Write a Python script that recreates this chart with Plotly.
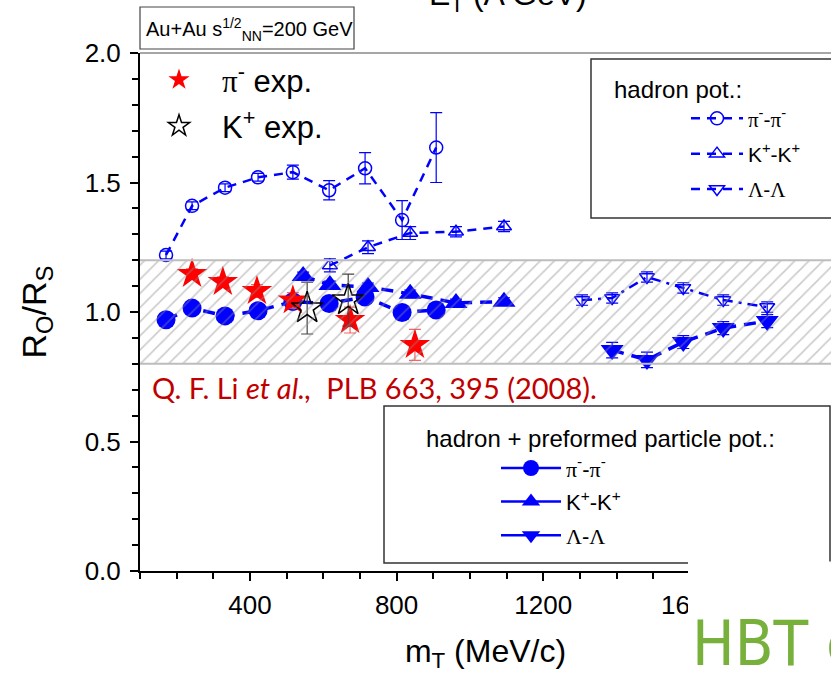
import plotly.graph_objects as go

# ---- R_O/R_S versus m_T (MeV/c), Au+Au at sqrt(s_NN)=200 GeV ----
# hadron potential only (open symbols)
pi_had_x = [171, 242, 332, 422, 517, 616, 714, 815, 908]
pi_had_y = [1.22, 1.41, 1.48, 1.52, 1.54, 1.47, 1.555, 1.355, 1.635]
pi_had_err = [0.015, 0.015, 0.015, 0.015, 0.027, 0.037, 0.06, 0.075, 0.135]

k_had_x = [618, 722, 837, 962, 1093]
k_had_y = [1.18, 1.25, 1.305, 1.31, 1.33]
k_had_err = [0.025, 0.025, 0.025, 0.02, 0.02]

lam_had_x = [1306, 1388, 1483, 1582, 1691, 1811]
lam_had_y = [1.046, 1.054, 1.135, 1.093, 1.046, 1.019]
lam_had_err = [0.02, 0.02, 0.02, 0.02, 0.02, 0.02]

# hadron + preformed particle potential (filled symbols)
pi_pre_x = [171, 242, 332, 422, 517, 616, 714, 815, 908]
pi_pre_y = [0.97, 1.015, 0.985, 1.005, 1.04, 1.033, 1.058, 0.998, 1.008]
pi_pre_err = [0.01, 0.01, 0.01, 0.01, 0.01, 0.01, 0.01, 0.015, 0.015]

k_pre_x = [545, 618, 722, 837, 962, 1093]
k_pre_y = [1.139, 1.104, 1.097, 1.07, 1.035, 1.04]
k_pre_err = [0.015, 0.015, 0.015, 0.015, 0.015, 0.015]

lam_pre_x = [1388, 1483, 1582, 1691, 1811]
lam_pre_y = [0.853, 0.815, 0.884, 0.938, 0.965]
lam_pre_err = [0.03, 0.03, 0.025, 0.025, 0.025]

# experimental points
pim_exp_x = [242, 326, 419, 517, 673, 850]
pim_exp_y = [1.147, 1.116, 1.081, 1.045, 0.969, 0.873]
pim_exp_err = [0.02, 0.02, 0.025, 0.03, 0.05, 0.06]

kp_exp_x = [556, 668]
kp_exp_y = [1.015, 1.046]
kp_exp_err = [0.10, 0.10]

# shaded band of the expected region
band_lo, band_hi = 0.8, 1.2

x_range = [100, 1985]
y_range = [0.0, 2.0]
x_ticks = [400, 800, 1200, 1600]
y_ticks = [0.0, 0.5, 1.0, 1.5, 2.0]

W, H = 831, 677
ML, MR, MT, MB = 140, 0, 53, 106
PW, PH = W - ML - MR, H - MT - MB


def px(x):
    return (x - ML) / PW


def py(y):
    return (H - MB - y) / PH


BLUE = "#0000ff"
RED = "#ff0000"
SERIF = "Liberation Serif, Times New Roman, serif"
SANS = "Liberation Sans, Arial, sans-serif"


def serif(s):
    return f'<span style="font-family:{SERIF}">{s}</span>'


PI = serif("π")
LAM = serif("Λ")

fig = go.Figure()

err_style = dict(type="data", thickness=1.2, width=6, color=BLUE)

# open symbols, dashed
fig.add_trace(go.Scatter(
    x=pi_had_x, y=pi_had_y, mode="lines+markers", showlegend=False,
    line=dict(color=BLUE, width=2.5, dash="9px,7px"),
    marker=dict(symbol="circle-open", size=13, color=BLUE, line=dict(width=1.5)),
    error_y=dict(array=pi_had_err, **err_style)))
fig.add_trace(go.Scatter(
    x=k_had_x, y=k_had_y, mode="lines+markers", showlegend=False,
    line=dict(color=BLUE, width=2.5, dash="9px,7px"),
    marker=dict(symbol="triangle-up-open", size=13, color=BLUE, line=dict(width=1.5)),
    error_y=dict(array=k_had_err, **err_style)))
fig.add_trace(go.Scatter(
    x=lam_had_x, y=lam_had_y, mode="lines+markers", showlegend=False,
    line=dict(color=BLUE, width=2.5, dash="10px,6px,3px,6px"),
    marker=dict(symbol="triangle-down-open", size=13, color=BLUE, line=dict(width=1.5)),
    error_y=dict(array=lam_had_err, **err_style)))

# filled symbols
fig.add_trace(go.Scatter(
    x=pi_pre_x, y=pi_pre_y, mode="lines+markers", showlegend=False,
    line=dict(color=BLUE, width=3.5, dash="12px,8px"),
    marker=dict(symbol="circle", size=19, color=BLUE),
    error_y=dict(array=pi_pre_err, **err_style)))
fig.add_trace(go.Scatter(
    x=k_pre_x, y=k_pre_y, mode="lines+markers", showlegend=False,
    line=dict(color=BLUE, width=3.5, dash="12px,8px"),
    marker=dict(symbol="triangle-up", size=20, color=BLUE),
    error_y=dict(array=k_pre_err, **err_style)))
fig.add_trace(go.Scatter(
    x=lam_pre_x, y=lam_pre_y, mode="lines+markers", showlegend=False,
    line=dict(color=BLUE, width=3.5, dash="12px,8px"),
    marker=dict(symbol="triangle-down", size=20, color=BLUE),
    error_y=dict(array=lam_pre_err, **err_style)))

# experiment
fig.add_trace(go.Scatter(
    x=pim_exp_x, y=pim_exp_y, mode="markers", showlegend=False,
    marker=dict(symbol="star", size=23, color=RED),
    error_y=dict(type="data", array=pim_exp_err, thickness=1.2, width=6, color="#ff6060")))
fig.add_trace(go.Scatter(
    x=kp_exp_x, y=kp_exp_y, mode="markers", showlegend=False,
    marker=dict(symbol="star-open", size=24, color="black", line=dict(width=1.5)),
    error_y=dict(type="data", array=kp_exp_err, thickness=1.2, width=6, color="#444444")))

# hatched band drawn over the points
fig.add_trace(go.Scatter(
    x=[x_range[0], x_range[1], x_range[1], x_range[0], x_range[0]],
    y=[band_lo, band_lo, band_hi, band_hi, band_lo],
    mode="lines", fill="toself", showlegend=False, hoverinfo="skip",
    line=dict(width=0, color="rgba(0,0,0,0)"),
    fillcolor="rgba(0,0,0,0)",
    fillpattern=dict(shape="/", fgcolor="rgba(140,140,140,0.9)", bgcolor="rgba(0,0,0,0)",
                     size=10, solidity=0.16, fillmode="overlay")))

# legend entries
fig.add_trace(go.Scatter(x=[None], y=[None], mode="markers", name=f"{PI}<sup>-</sup> exp.",
                         legend="legend", legendgroup="a",
                         marker=dict(symbol="star", size=24, color=RED)))
fig.add_trace(go.Scatter(x=[None], y=[None], mode="markers", name="K<sup>+</sup> exp.",
                         legend="legend", legendgroup="b",
                         marker=dict(symbol="star-open", size=24, color="black", line=dict(width=1.5))))

for nm, sym, dash, g in [(f"{PI}<sup>-</sup>-{PI}<sup>-</sup>", "circle-open", "9px,7px", "c"),
                         ("K<sup>+</sup>-K<sup>+</sup>", "triangle-up-open", "9px,7px", "d"),
                         (f"{LAM}-{LAM}", "triangle-down-open", "9px,7px", "e")]:
    fig.add_trace(go.Scatter(x=[None], y=[None], mode="lines+markers", name=nm,
                             legend="legend2", legendgroup=g,
                             line=dict(color=BLUE, width=2.5, dash=dash),
                             marker=dict(symbol=sym, size=13, color=BLUE, line=dict(width=1.5))))

for nm, sym, g in [(f"{PI}<sup>-</sup>-{PI}<sup>-</sup>", "circle", "f"),
                   ("K<sup>+</sup>-K<sup>+</sup>", "triangle-up", "g"),
                   (f"{LAM}-{LAM}", "triangle-down", "h")]:
    fig.add_trace(go.Scatter(x=[None], y=[None], mode="lines+markers", name=nm,
                             legend="legend3", legendgroup=g,
                             line=dict(color=BLUE, width=2.5),
                             marker=dict(symbol=sym, size=18, color=BLUE)))

shapes = [
    # band edges
    dict(type="line", xref="paper", yref="y", x0=0, x1=1, y0=band_lo, y1=band_lo,
         line=dict(color="#bdbdbd", width=2)),
    dict(type="line", xref="paper", yref="y", x0=0, x1=1, y0=band_hi, y1=band_hi,
         line=dict(color="#bdbdbd", width=2)),
    # top frame
    dict(type="line", xref="paper", yref="paper", x0=0, x1=1, y0=1, y1=1,
         line=dict(color="#888888", width=1.5)),
    # collision-system label box
    dict(type="rect", xref="paper", yref="paper", x0=px(140), x1=px(354), y0=py(49), y1=py(7),
         line=dict(color="#444444", width=1.2), fillcolor="white", layer="below"),
    # legend boxes
    dict(type="rect", xref="paper", yref="paper", x0=px(591), x1=px(845), y0=py(218), y1=py(59),
         line=dict(color="#333333", width=1.5), fillcolor="white", layer="below"),
    dict(type="rect", xref="paper", yref="paper", x0=px(384), x1=px(830), y0=py(563), y1=py(406),
         line=dict(color="#333333", width=1.5), fillcolor="white", layer="below"),
    # page area outside the plot panel
    dict(type="rect", xref="paper", yref="paper", x0=px(688), x1=px(840), y0=py(690), y1=py(561.5),
         line=dict(width=0), fillcolor="white", layer="above"),
]

annotations = [
    dict(text="Au+Au s<sup>1/2</sup><sub>NN</sub>=200 GeV", xref="paper", yref="paper",
         x=px(144), y=py(29), xanchor="left", yanchor="middle", showarrow=False,
         font=dict(family=SANS, size=20, color="black")),
    dict(text="E<sub>T</sub> (A GeV)", xref="paper", yref="paper",
         x=px(508), y=py(19), xanchor="center", yanchor="bottom", showarrow=False,
         font=dict(family=SANS, size=32, color="black")),
    dict(text="Q. F. Li <i>et al.,</i>\u00a0\u00a0PLB 663, 395 (2008).", xref="paper", yref="paper",
         x=px(150), y=py(388), xanchor="left", yanchor="middle", showarrow=False,
         font=dict(family="Lato, Open Sans, sans-serif", size=29, color="#c00000")),
    dict(text="HBT c", xref="paper", yref="paper",
         x=px(690), y=py(643), xanchor="left", yanchor="middle", showarrow=False,
         font=dict(family="DejaVu Sans Condensed, Liberation Sans, Arial, sans-serif",
                   size=63, color="#78b03c")),
]

fig.update_layout(
    width=W, height=H,
    margin=dict(l=ML, r=MR, t=MT, b=MB, pad=0),
    paper_bgcolor="white", plot_bgcolor="white",
    font=dict(family=SANS, color="black"),
    shapes=shapes, annotations=annotations,
    legend=dict(x=px(136), y=py(53), xanchor="left", yanchor="top",
                bgcolor="rgba(0,0,0,0)", borderwidth=0, itemwidth=76,
                font=dict(size=31, family=SANS), tracegroupgap=3, traceorder="grouped",
                itemsizing="trace"),
    legend2=dict(x=px(612), y=py(67), xanchor="left", yanchor="top",
                 bgcolor="rgba(0,0,0,0)", borderwidth=0, itemwidth=52, indentation=74,
                 title=dict(text="hadron pot.:", font=dict(size=24, family=SANS)),
                 font=dict(size=21, family=SANS), tracegroupgap=5, traceorder="grouped"),
    legend3=dict(x=px(424), y=py(416), xanchor="left", yanchor="top",
                 bgcolor="rgba(0,0,0,0)", borderwidth=0, itemwidth=60, indentation=72,
                 title=dict(text="hadron + preformed particle pot.:", font=dict(size=24, family=SANS)),
                 font=dict(size=22, family=SANS), tracegroupgap=2, traceorder="grouped"),
    xaxis=dict(range=x_range, tickvals=x_ticks, showgrid=False, zeroline=False,
               showline=True, linecolor="black", linewidth=2,
               ticks="outside", ticklen=8, tickwidth=1.5, tickcolor="black",
               minor=dict(dtick=100, tick0=0, ticks="outside", ticklen=6, tickwidth=1.5,
                          tickcolor="black", showgrid=False),
               tickfont=dict(size=26, family=SANS), ticklabelstandoff=2,
               title=dict(text="m<sub>T</sub> (MeV/c)", font=dict(size=32, family=SANS), standoff=20)),
    yaxis=dict(range=y_range, tickvals=y_ticks, tickformat=".1f", showgrid=False, zeroline=False,
               showline=True, linecolor="black", linewidth=2,
               ticks="outside", ticklen=8, tickwidth=1.5, tickcolor="black",
               minor=dict(dtick=0.1, tick0=0, ticks="outside", ticklen=6, tickwidth=1.5,
                          tickcolor="black", showgrid=False),
               tickfont=dict(size=26, family=SANS), ticklabelstandoff=4,
               title=dict(text="R<sub>O</sub>/R<sub>S</sub>", font=dict(size=34, family=SANS), standoff=28)),
)

fig.write_html("out.html")
